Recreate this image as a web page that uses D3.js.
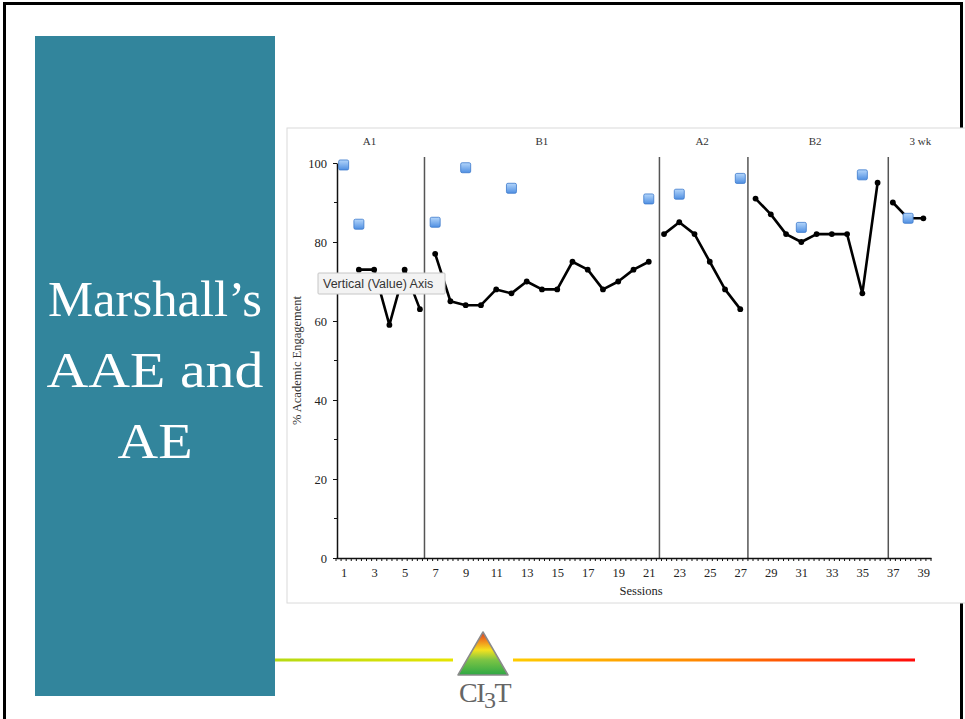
<!DOCTYPE html>
<html>
<head>
<meta charset="utf-8">
<script src="https://cdn.jsdelivr.net/npm/d3@7"></script>
<style>
  html, body { margin: 0; padding: 0; background: #fff; }
  svg { display: block; }
</style>
</head>
<body>
<svg id="slide" width="965" height="719"></svg>
<script>
// ---- data ---------------------------------------------------------------
const titleLines = ["Marshall\u2019s", "AAE and", "AE"];
const phaseNames = ["A1", "B1", "A2", "B2", "3 wk"];
const phaseLabelSession = [2.7, 14.0, 24.5, 31.9, 38.8];
const phaseChangeSession = [6.3, 21.7, 27.5, 36.7];

// Academic Engagement (% of session), one array per phase
const aeA1  = [[2, 73], [3, 73], [4, 59], [5, 73], [6, 63]];
const aeB1  = [[7, 77], [8, 65], [9, 64], [10, 64], [11, 68], [12, 67], [13, 70], [14, 68],
               [15, 68], [16, 75], [17, 73], [18, 68], [19, 70], [20, 73], [21, 75]];
const aeA2  = [[22, 82], [23, 85], [24, 82], [25, 75], [26, 68], [27, 63]];
const aeB2  = [[28, 91], [29, 87], [30, 82], [31, 80], [32, 82], [33, 82], [34, 82], [35, 67], [36, 95]];
const ae3wk = [[37, 90], [38, 86], [39, 86]];

// Teacher-rated Academic Engagement (AAE)
const aaeSessions = [1, 2, 7, 9, 12, 21, 23, 27, 31, 35, 38];
const aaeValues   = [99.5, 84.5, 85, 98.8, 93.6, 90.9, 92.1, 96.1, 83.7, 97, 86];

const yTickValues = [0, 20, 40, 60, 80, 100];
const yMinorTicks = [10, 30, 50, 70, 90];
const xTickValues = d3.range(1, 40, 2);
const xMinorTicks = d3.range(0.5, 39.51, 1 / 3);

// ---- setup --------------------------------------------------------------
const svg = d3.select("#slide");
const defs = svg.append("defs");
const serif = "'Liberation Serif', 'Times New Roman', serif";

// slide frame
svg.append("path")
  .attr("d", "M4.5,740 V3.5 H961.5 V740")
  .attr("fill", "none").attr("stroke", "#000").attr("stroke-width", 3);

// teal title panel
svg.append("rect")
  .attr("x", 35).attr("y", 36).attr("width", 240).attr("height", 660)
  .attr("fill", "#32859c");

svg.append("g").selectAll("text").data(titleLines).join("text")
  .attr("x", 155)
  .attr("y", (d, i) => [316, 387, 458][i])
  .attr("text-anchor", "middle")
  .attr("font-family", serif).attr("font-size", 51)
  .attr("textLength", (d, i) => [214, 217, 75][i])
  .attr("lengthAdjust", "spacingAndGlyphs")
  .attr("fill", "#fff")
  .text(d => d);

// chart backdrop
svg.append("rect")
  .attr("x", 287).attr("y", 128).attr("width", 700).attr("height", 475)
  .attr("fill", "#fff").attr("stroke", "#dadada").attr("stroke-width", 1);

// ---- scales -------------------------------------------------------------
const x = d3.scaleLinear().domain([0.5, 39.5]).range([336, 931]);
const y = d3.scaleLinear().domain([0, 100]).range([558, 163]);

const chart = svg.append("g");

// phase-change lines
chart.append("g").selectAll("line").data(phaseChangeSession).join("line")
  .attr("x1", d => x(d)).attr("x2", d => x(d))
  .attr("y1", y(101.5)).attr("y2", y(0))
  .attr("stroke", "#555").attr("stroke-width", 1.5);

// phase labels
chart.append("g").selectAll("text").data(phaseNames).join("text")
  .attr("x", (d, i) => x(phaseLabelSession[i]))
  .attr("y", y(104.5))
  .attr("text-anchor", "middle")
  .attr("font-family", serif).attr("font-size", 11)
  .attr("fill", "#333")
  .text(d => d);

// y axis
const yAxis = chart.append("g")
  .attr("transform", `translate(${x(0.5) + 1},0)`)
  .call(d3.axisLeft(y).tickValues(yTickValues).tickSize(4).tickSizeOuter(0).tickPadding(6));
yAxis.selectAll(".tick text").attr("font-family", serif).attr("font-size", 12.5).attr("fill", "#222");
yAxis.select(".domain").attr("stroke", "#111").attr("stroke-width", 1.5);
yAxis.selectAll(".tick line").attr("stroke", "#111");
yAxis.append("g").selectAll("line").data(yMinorTicks).join("line")
  .attr("x1", -3).attr("x2", 0)
  .attr("y1", d => y(d)).attr("y2", d => y(d))
  .attr("stroke", "#111");

// x axis
const xAxis = chart.append("g")
  .attr("transform", `translate(0,${y(0)})`)
  .call(d3.axisBottom(x).tickValues(xTickValues).tickSize(0).tickSizeOuter(0).tickPadding(10));
xAxis.selectAll(".tick text").attr("font-family", serif).attr("font-size", 12.5).attr("fill", "#222");
xAxis.select(".domain").attr("stroke", "#111").attr("stroke-width", 1.5);
xAxis.append("g").selectAll("line").data(xMinorTicks).join("line")
  .attr("x1", d => x(d)).attr("x2", d => x(d))
  .attr("y1", 0).attr("y2", 3)
  .attr("stroke", "#111").attr("stroke-width", 1);

// axis titles
chart.append("text")
  .attr("transform", `translate(301,${y(50)}) rotate(-90)`)
  .attr("text-anchor", "middle")
  .attr("font-family", serif).attr("font-size", 12.5).attr("fill", "#333")
  .text("% Academic Engagement");

chart.append("text")
  .attr("x", x(20.5)).attr("y", 595)
  .attr("text-anchor", "middle")
  .attr("font-family", serif).attr("font-size", 12.5).attr("fill", "#222")
  .text("Sessions");

// AE lines, broken at each phase change
const line = d3.line().x(d => x(d[0])).y(d => y(d[1]));
const phases = [aeA1, aeB1, aeA2, aeB2, ae3wk];
const aeG = chart.append("g");
aeG.selectAll("path").data(phases).join("path")
  .attr("d", line)
  .attr("fill", "none").attr("stroke", "#000").attr("stroke-width", 2.6)
  .attr("stroke-linejoin", "round");
aeG.selectAll("circle").data(phases.flat()).join("circle")
  .attr("cx", d => x(d[0])).attr("cy", d => y(d[1]))
  .attr("r", 2.9).attr("fill", "#000");

// AAE squares, drawn over the AE series
const sq = defs.append("linearGradient").attr("id", "sqFill")
  .attr("x1", 0).attr("y1", 0).attr("x2", 0).attr("y2", 1);
sq.append("stop").attr("offset", "0%").attr("stop-color", "#b4d6fb");
sq.append("stop").attr("offset", "100%").attr("stop-color", "#4f8fe2");

chart.append("g").selectAll("rect").data(aaeSessions).join("rect")
  .attr("x", d => x(d) - 5)
  .attr("y", (d, i) => y(aaeValues[i]) - 5)
  .attr("width", 10).attr("height", 10).attr("rx", 1.5)
  .attr("fill", "url(#sqFill)")
  .attr("stroke", "#3b79cc").attr("stroke-width", 0.8);

// hover caption on the value axis
const tip = svg.append("g");
tip.append("rect")
  .attr("x", 318).attr("y", 273).attr("width", 127).attr("height", 21).attr("rx", 1)
  .attr("fill", "#f3f3f3").attr("stroke", "#c6c6c6").attr("stroke-width", 1);
tip.append("text")
  .attr("x", 323).attr("y", 288)
  .attr("font-family", "'Liberation Sans', Arial, sans-serif").attr("font-size", 12.5)
  .attr("fill", "#333")
  .text("Vertical (Value) Axis");

// ---- footer rule and logo -------------------------------------------------
const gL = defs.append("linearGradient").attr("id", "ruleLeft")
  .attr("gradientUnits", "userSpaceOnUse").attr("x1", 275).attr("x2", 453).attr("y1", 0).attr("y2", 0);
gL.append("stop").attr("offset", "0%").attr("stop-color", "#b6da14");
gL.append("stop").attr("offset", "100%").attr("stop-color", "#e6e400");

const gR = defs.append("linearGradient").attr("id", "ruleRight")
  .attr("gradientUnits", "userSpaceOnUse").attr("x1", 513).attr("x2", 915).attr("y1", 0).attr("y2", 0);
gR.append("stop").attr("offset", "0%").attr("stop-color", "#ffcc00");
gR.append("stop").attr("offset", "45%").attr("stop-color", "#ff8a00");
gR.append("stop").attr("offset", "100%").attr("stop-color", "#ff0a0a");

svg.append("rect").attr("x", 275).attr("y", 658.5).attr("width", 178).attr("height", 3).attr("fill", "url(#ruleLeft)");
svg.append("rect").attr("x", 513).attr("y", 658.5).attr("width", 402).attr("height", 3).attr("fill", "url(#ruleRight)");

const tri = defs.append("linearGradient").attr("id", "triFill")
  .attr("x1", 0).attr("y1", 0).attr("x2", 0).attr("y2", 1);
tri.append("stop").attr("offset", "0%").attr("stop-color", "#dc3a1e");
tri.append("stop").attr("offset", "22%").attr("stop-color", "#f08d1d");
tri.append("stop").attr("offset", "42%").attr("stop-color", "#f4e21f");
tri.append("stop").attr("offset", "65%").attr("stop-color", "#7cc444");
tri.append("stop").attr("offset", "100%").attr("stop-color", "#2ea845");

svg.append("path")
  .attr("d", "M483,632 L508,675 L458,675 Z")
  .attr("fill", "url(#triFill)").attr("stroke", "#8a8a8a").attr("stroke-width", 1.5)
  .attr("stroke-linejoin", "round");

const logo = svg.append("text")
  .attr("x", 459).attr("y", 702)
  .attr("font-family", serif).attr("font-size", 28)
  .attr("fill", "#666").attr("letter-spacing", -1.5);
logo.append("tspan").text("CI");
logo.append("tspan").attr("dy", 6).attr("font-size", 24).text("3");
logo.append("tspan").attr("dy", -6).text("T");
</script>
</body>
</html>
